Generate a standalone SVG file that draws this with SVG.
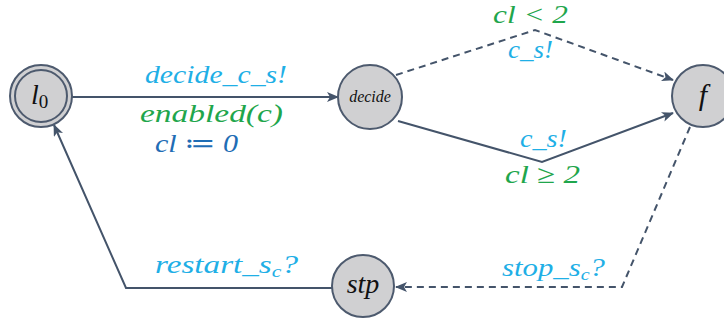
<svg xmlns="http://www.w3.org/2000/svg" width="724" height="320" viewBox="0 0 724 320">
<defs>
<marker id="ah" viewBox="0 0 12 10" refX="11" refY="5" markerWidth="12" markerHeight="10" markerUnits="userSpaceOnUse" orient="auto">
<path d="M0,0 L12,5 L0,10 L3,5 Z" fill="#44546a"/>
</marker>
<style>
.node{fill:#d0d0d2;stroke:#4d5a6e;stroke-width:2}
.edge{fill:none;stroke:#44546a;stroke-width:2}
.dash{stroke-dasharray:7 5}
.lbl{font-family:"Liberation Serif","DejaVu Serif",serif;font-style:italic}
.blue{fill:#1fafe6}
.green{fill:#1fa64c}
.dblue{fill:#1f6db5}
.nl{fill:#111;font-family:"Liberation Serif","DejaVu Serif",serif;font-style:italic}
</style>
</defs>
<rect width="724" height="320" fill="#fff"/>
<g id="connectors">
<path class="edge" d="M72,97 L338,97" marker-end="url(#ah)"/>
<path class="edge dash" d="M396,75 L535,30 L673,80" marker-end="url(#ah)"/>
<path class="edge" d="M398,121 L542,162 L673,113" marker-end="url(#ah)"/>
<path class="edge dash" d="M690,127 L622,287 L396,287" marker-end="url(#ah)"/>
<path class="edge" d="M333,288 L126,288 L54,125" marker-end="url(#ah)"/>
</g>
<g id="labels">
<text class="lbl blue" x="145" y="83" font-size="26" textLength="142" lengthAdjust="spacingAndGlyphs">decide_c_s!</text>
<text class="lbl green" x="140" y="122" font-size="26" textLength="143" lengthAdjust="spacingAndGlyphs">enabled(c)</text>
<text class="lbl dblue" x="155" y="152" font-size="26" textLength="83" lengthAdjust="spacingAndGlyphs">cl ≔ 0</text>
<text class="lbl green" x="493" y="23" font-size="26" textLength="75" lengthAdjust="spacingAndGlyphs">cl &lt; 2</text>
<text class="lbl blue" x="508" y="58" font-size="26" textLength="45" lengthAdjust="spacingAndGlyphs">c_s!</text>
<text class="lbl blue" x="520" y="147" font-size="26" textLength="47" lengthAdjust="spacingAndGlyphs">c_s!</text>
<text class="lbl green" x="505" y="183" font-size="26" textLength="75" lengthAdjust="spacingAndGlyphs">cl ≥ 2</text>
<text class="lbl blue" x="155" y="273" font-size="26" textLength="143" lengthAdjust="spacingAndGlyphs">restart_s<tspan font-size="17" dy="4">c</tspan><tspan dy="-4">?</tspan></text>
<text class="lbl blue" x="502" y="276" font-size="26" textLength="103" lengthAdjust="spacingAndGlyphs">stop_s<tspan font-size="17" dy="4">c</tspan><tspan dy="-4">?</tspan></text>
</g>
<g id="l0">
<circle class="node" cx="41" cy="96" r="31"/>
<circle cx="41" cy="96" r="26" fill="none" stroke="#4d5a6e" stroke-width="2"/>
<text class="nl" x="31" y="104" font-size="28">l<tspan font-size="19" dy="4" font-style="normal">0</tspan></text>
</g>
<g id="decide">
<circle class="node" cx="370" cy="97" r="32"/>
<text class="nl" x="370" y="102" font-size="16" text-anchor="middle">decide</text>
</g>
<g id="f">
<circle class="node" cx="703" cy="96" r="31"/>
<text class="nl" x="703" y="105" font-size="30" text-anchor="middle">f</text>
</g>
<g id="stp">
<circle class="node" cx="363" cy="286" r="31"/>
<text class="nl" x="363" y="293" font-size="28" text-anchor="middle">stp</text>
</g>
</svg>
